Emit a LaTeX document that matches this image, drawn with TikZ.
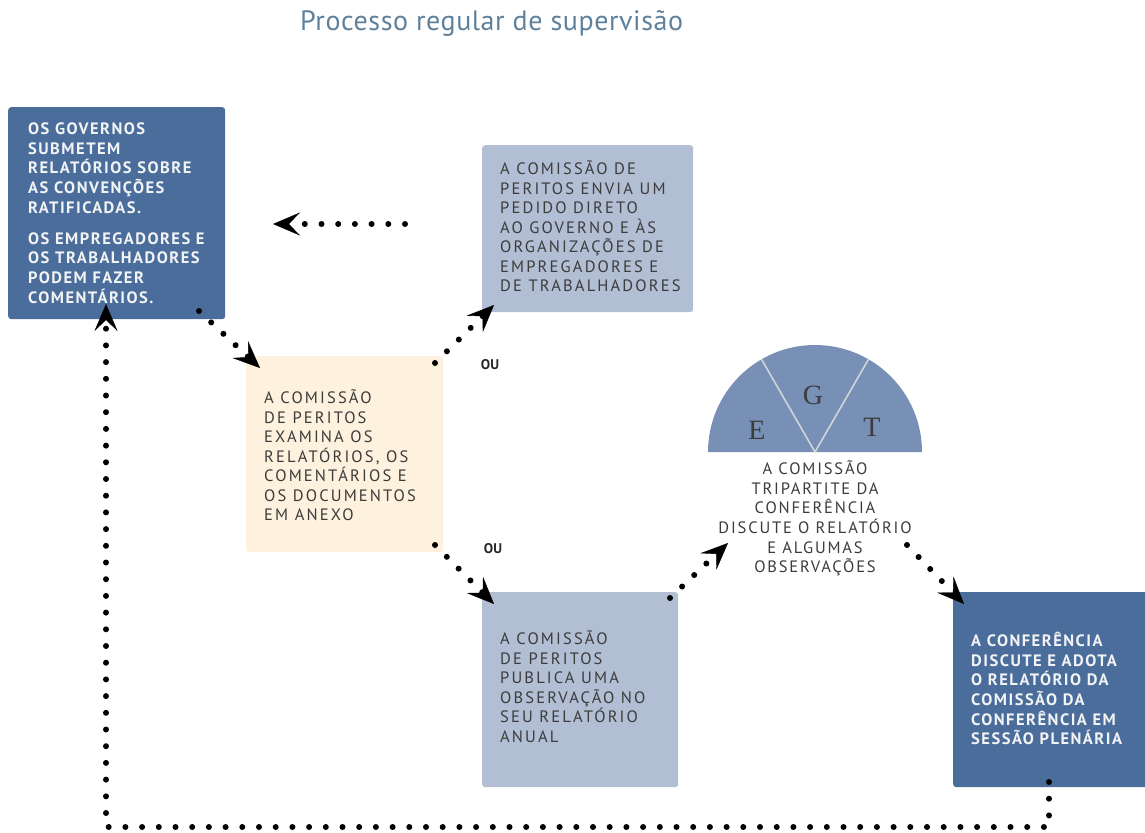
\documentclass[tikz,border=0pt]{standalone}
\usepackage{fontspec}
\setmainfont{PT Sans}
\newfontfamily\boxfont[LetterSpace=9]{PT Sans}
\newfontfamily\grayfont[LetterSpace=13]{PT Sans}
\newfontfamily\semifont[LetterSpace=11]{PT Sans}
\newfontfamily\titlefont[LetterSpace=2]{PT Sans}
\newfontfamily\serifletters{Liberation Serif}
\usetikzlibrary{arrows.meta}
\definecolor{darkbox}{HTML}{4A6D9B}
\definecolor{lightbox}{HTML}{B2BED3}
\definecolor{beige}{HTML}{FEF2DE}
\definecolor{semi}{HTML}{7890B5}
\definecolor{titlec}{HTML}{5F819B}
\definecolor{txtgray}{HTML}{3C3C3C}
\definecolor{txtwhite}{HTML}{F2F3F5}
\definecolor{divline}{HTML}{D0D4D8}
\newcommand\fstrut{\rule{0pt}{16pt}}
\begin{document}
\begin{tikzpicture}[x=1pt,y=-1pt,
  box/.style={rounded corners=3pt, inner sep=0pt, anchor=north west},
  txt/.style={anchor=north west, inner sep=0pt, align=left, font=\grayfont\fontsize{16.5}{19.5}\selectfont},
  boldtxt/.style={txt, text=txtwhite, font=\boxfont\bfseries\fontsize{16.5}{19.6}\selectfont},
  graytxt/.style={txt, text=txtgray},
  dotline/.style={line width=6pt, line cap=round, dash pattern=on 0pt off 16.7pt,
    -{Stealth[length=27pt,width=23pt,inset=11pt,line width=0.4pt]}},
  letter/.style={inner sep=0pt, text=txtgray, font=\serifletters\fontsize{28}{28}\selectfont},
  oulabel/.style={inner sep=0pt, text=black!85, font=\bfseries\fontsize{14}{14}\selectfont},
]
\useasboundingbox (0,0) rectangle (1145,832);
% title
\node[anchor=base west, inner sep=0pt, text=titlec, font=\titlefont\fontsize{28}{30}\selectfont] (title) at (300,31) {Processo regular de supervisão};
% boxes
\node[box, fill=darkbox, minimum width=217pt, minimum height=212pt] (b1) at (8,107) {};
\node[box, fill=lightbox, minimum width=211pt, minimum height=167pt] (b2) at (482,145) {};
\node[box, fill=beige, minimum width=197pt, minimum height=196pt] (b3) at (246,356) {};
\node[box, fill=lightbox, minimum width=196pt, minimum height=195pt] (b4) at (482,592) {};
\node[box, fill=darkbox, minimum width=200pt, minimum height=195pt] (b5) at (953,592) {};
% semicircle
\fill[semi] (708,452) arc[start angle=180, end angle=360, radius=107] -- cycle;
\draw[divline, line width=1.6pt] (815,452) -- (761.5,359.3);
\draw[divline, line width=1.6pt] (815,452) -- (868.5,359.3);
\node[letter] (le) at (757,430) {E};
\node[letter] (lg) at (813,395) {G};
\node[letter] (lt) at (872,427) {T};
% texts
\node[boldtxt] (t1) at (28,118.5) {\fstrut OS GOVERNOS\\ SUBMETEM\\ RELATÓRIOS SOBRE\\ AS CONVENÇÕES\\ RATIFICADAS.\\[11.5pt] OS EMPREGADORES E\\ OS TRABALHADORES\\ PODEM FAZER\\ COMENTÁRIOS.};
\node[graytxt] (t2) at (500,158.5) {\fstrut A COMISSÃO DE\\ PERITOS ENVIA UM\\ PEDIDO DIRETO\\ AO GOVERNO E ÀS\\ ORGANIZAÇÕES DE\\ EMPREGADORES E\\ DE TRABALHADORES};
\node[graytxt] (t3) at (264,387.5) {\fstrut A COMISSÃO\\ DE PERITOS\\ EXAMINA OS\\ RELATÓRIOS, OS\\ COMENTÁRIOS E\\ OS DOCUMENTOS\\ EM ANEXO};
\node[graytxt] (t4) at (500,628.5) {\fstrut A COMISSÃO\\ DE PERITOS\\ PUBLICA UMA\\ OBSERVAÇÃO NO\\ SEU RELATÓRIO\\ ANUAL};
\node[boldtxt] (t5) at (971,630.5) {\fstrut A CONFERÊNCIA\\ DISCUTE E ADOTA\\ O RELATÓRIO DA\\ COMISSÃO DA\\ CONFERÊNCIA EM\\ SESSÃO PLENÁRIA};
\node[graytxt, anchor=north, align=center, font=\semifont\fontsize{16.5}{19.6}\selectfont] (t6) at (815,458.5) {\fstrut A COMISSÃO\\ TRIPARTITE DA\\ CONFERÊNCIA\\ DISCUTE O RELATÓRIO\\ E ALGUMAS\\ OBSERVAÇÕES};
% OU labels
\node[oulabel] (ou1) at (490,365) {OU};
\node[oulabel] (ou2) at (493,549) {OU};
% connector end points
\coordinate (a1s) at (405,224);
\coordinate (a1e) at (273,224);
\coordinate (a2s) at (199,311);
\coordinate (a2e) at (260,368);
\coordinate (a3s) at (435,363);
\coordinate (a3e) at (494,305);
\coordinate (a5s) at (435,545);
\coordinate (a5e) at (494,604);
\coordinate (a6s) at (670,598);
\coordinate (a6e) at (728,543);
\coordinate (a7s) at (907,545);
\coordinate (a7e) at (964,604);
\coordinate (a8s) at (1049,782);
\coordinate (a8c1) at (1049,827);
\coordinate (a8c2) at (106,827);
\coordinate (a8e) at (106,304);
% connectors
\draw[dotline] (a1s) -- (a1e);
\draw[dotline] (a2s) -- (a2e);
\draw[dotline] (a3s) -- (a3e);
\draw[dotline] (a5s) -- (a5e);
\draw[dotline] (a6s) -- (a6e);
\draw[dotline] (a7s) -- (a7e);
\draw[dotline] (a8s) -- (a8c1) -- (a8c2) -- (a8e);
\end{tikzpicture}
\end{document}
